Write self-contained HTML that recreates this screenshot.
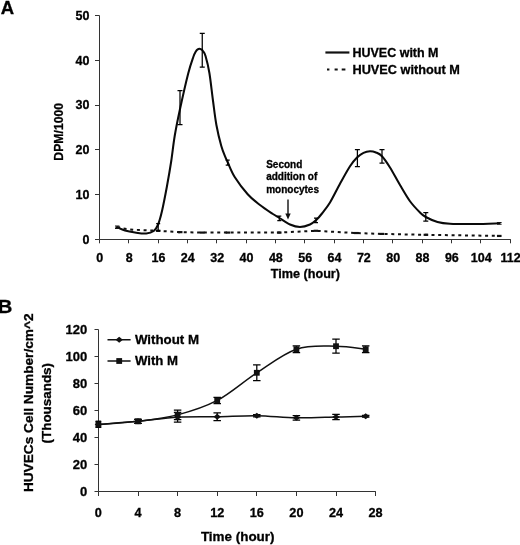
<!DOCTYPE html><html><head><meta charset="utf-8"><title>Figure</title><style>html,body{margin:0;padding:0;background:#fff}svg{display:block;will-change:transform;opacity:.999}text{stroke:#000;stroke-width:.3px;fill:#000}</style></head><body><svg width="520" height="545" viewBox="0 0 520 545">
<rect width="520" height="545" fill="#fff"/>
<g font-family="'Liberation Sans', sans-serif" font-weight="bold" fill="#111">
<text x="0.8" y="14.3" font-size="18.5">A</text>
<text x="-2.2" y="312.8" font-size="18.5" textLength="14.6" lengthAdjust="spacingAndGlyphs">B</text>
<g stroke="#333" stroke-width="1" fill="none">
<path d="M99.5 15.5V239.5H510.8"/>
<path d="M95 239.50H99.5"/>
<path d="M95 194.50H99.5"/>
<path d="M95 149.50H99.5"/>
<path d="M95 105.50H99.5"/>
<path d="M95 60.50H99.5"/>
<path d="M95 15.50H99.5"/>
<path d="M99.50 239.5V243.3"/>
<path d="M128.50 239.5V243.3"/>
<path d="M158.50 239.5V243.3"/>
<path d="M187.50 239.5V243.3"/>
<path d="M216.50 239.5V243.3"/>
<path d="M246.50 239.5V243.3"/>
<path d="M275.50 239.5V243.3"/>
<path d="M304.50 239.5V243.3"/>
<path d="M334.50 239.5V243.3"/>
<path d="M363.50 239.5V243.3"/>
<path d="M392.50 239.5V243.3"/>
<path d="M422.50 239.5V243.3"/>
<path d="M451.50 239.5V243.3"/>
<path d="M480.50 239.5V243.3"/>
<path d="M510.50 239.5V243.3"/>
</g>
<text x="89.5" y="243.70" font-size="12.5" text-anchor="end">0</text>
<text x="89.5" y="198.94" font-size="12.5" text-anchor="end">10</text>
<text x="89.5" y="154.18" font-size="12.5" text-anchor="end">20</text>
<text x="89.5" y="109.42" font-size="12.5" text-anchor="end">30</text>
<text x="89.5" y="64.66" font-size="12.5" text-anchor="end">40</text>
<text x="89.5" y="19.90" font-size="12.5" text-anchor="end">50</text>
<text x="99.80" y="262.1" font-size="12.5" text-anchor="middle">0</text>
<text x="129.14" y="262.1" font-size="12.5" text-anchor="middle">8</text>
<text x="158.48" y="262.1" font-size="12.5" text-anchor="middle">16</text>
<text x="187.82" y="262.1" font-size="12.5" text-anchor="middle">24</text>
<text x="217.16" y="262.1" font-size="12.5" text-anchor="middle">32</text>
<text x="246.50" y="262.1" font-size="12.5" text-anchor="middle">40</text>
<text x="275.84" y="262.1" font-size="12.5" text-anchor="middle">48</text>
<text x="305.18" y="262.1" font-size="12.5" text-anchor="middle">56</text>
<text x="334.52" y="262.1" font-size="12.5" text-anchor="middle">64</text>
<text x="363.86" y="262.1" font-size="12.5" text-anchor="middle">72</text>
<text x="393.20" y="262.1" font-size="12.5" text-anchor="middle">80</text>
<text x="422.54" y="262.1" font-size="12.5" text-anchor="middle">88</text>
<text x="451.88" y="262.1" font-size="12.5" text-anchor="middle">96</text>
<text x="481.22" y="262.1" font-size="12.5" text-anchor="middle">104</text>
<text x="510.56" y="262.1" font-size="12.5" text-anchor="middle">112</text>
<text x="305.4" y="278" font-size="12.5" text-anchor="middle" textLength="69.2" lengthAdjust="spacingAndGlyphs">Time (hour)</text>
<text transform="translate(63.4 131.8) rotate(-90)" font-size="12.5" text-anchor="middle" textLength="57.8" lengthAdjust="spacingAndGlyphs">DPM/1000</text>
<path d="M325.4 52.5H349.4" stroke="#111" stroke-width="2.2"/>
<text x="352.5" y="57" font-size="12.5" textLength="86" lengthAdjust="spacingAndGlyphs">HUVEC with M</text>
<path d="M327 69.6h2.4M334.6 69.6h3.1M341.7 69.6h3.7" stroke="#111" stroke-width="2"/>
<text x="352.5" y="74.4" font-size="12.5" textLength="107.3" lengthAdjust="spacingAndGlyphs">HUVEC without M</text>
<text font-size="10" x="266.2" y="167.5">Second</text>
<text font-size="10" x="266.2" y="180">addition of</text>
<text font-size="10" x="266.2" y="192.5">monocytes</text>
<path d="M288 199.5V215" stroke="#111" stroke-width="1.4"/>
<path d="M285.3 213.5H290.7L288 219.6Z" fill="#111"/>
<path d="M117.00 227.20 L123.00 228.50 L128.00 229.20 L135.00 229.80 L145.00 230.20 L158.18 230.80 L180.19 232.14 L202.19 232.59 L227.86 232.59 L279.21 232.59 L315.88 230.80 L356.23 233.03 L381.90 233.93 L425.91 234.82 L499.26 235.94" stroke="#111" stroke-width="2" fill="none" stroke-dasharray="3 3.7"/>
<path d="M115.54 227.66h4.6" stroke="#111" stroke-width="2.2"/>
<path d="M155.88 230.80h4.6" stroke="#111" stroke-width="2.2"/>
<path d="M177.88 232.14h4.6" stroke="#111" stroke-width="2.2"/>
<path d="M199.89 232.59h4.6" stroke="#111" stroke-width="2.2"/>
<path d="M225.56 232.59h4.6" stroke="#111" stroke-width="2.2"/>
<path d="M276.91 232.59h4.6" stroke="#111" stroke-width="2.2"/>
<path d="M313.58 230.80h4.6" stroke="#111" stroke-width="2.2"/>
<path d="M353.93 233.03h4.6" stroke="#111" stroke-width="2.2"/>
<path d="M379.60 233.93h4.6" stroke="#111" stroke-width="2.2"/>
<path d="M423.61 234.82h4.6" stroke="#111" stroke-width="2.2"/>
<path d="M496.96 235.94h4.6" stroke="#111" stroke-width="2.2"/>
<path d="M117.00 227.25 C118.33 227.79 122.00 229.62 125.00 230.50 C128.00 231.38 131.46 232.00 135.00 232.50 C138.54 233.00 143.12 233.75 146.25 233.50 C149.38 233.25 151.79 232.46 153.75 231.00 C155.71 229.54 156.62 228.08 158.00 224.75 C159.38 221.42 160.50 217.46 162.00 211.00 C163.50 204.54 165.46 194.33 167.00 186.00 C168.54 177.67 169.97 169.33 171.25 161.00 C172.53 152.67 173.27 144.50 174.70 136.00 C176.12 127.50 177.55 120.42 179.80 110.00 C182.05 99.58 185.95 82.33 188.20 73.50 C190.45 64.67 192.00 60.72 193.30 57.00 C194.60 53.28 195.27 52.47 196.00 51.20 C196.73 49.93 197.13 49.82 197.70 49.40 C198.27 48.98 198.83 48.72 199.40 48.70 C199.97 48.68 200.52 48.92 201.10 49.30 C201.68 49.68 202.15 49.85 202.90 51.00 C203.65 52.15 204.52 52.53 205.60 56.20 C206.68 59.87 208.18 65.70 209.40 73.00 C210.62 80.30 211.73 91.33 212.90 100.00 C214.07 108.67 215.00 117.33 216.40 125.00 C217.80 132.67 219.77 140.55 221.30 146.00 C222.83 151.45 224.52 154.95 225.60 157.70 C226.68 160.45 226.28 159.28 227.80 162.50 C229.32 165.72 231.38 171.72 234.70 177.00 C238.02 182.28 243.48 189.53 247.70 194.20 C251.92 198.87 255.87 201.74 260.00 205.00 C264.13 208.26 269.25 211.58 272.50 213.75 C275.75 215.92 276.58 216.21 279.50 218.00 C282.42 219.79 286.58 223.00 290.00 224.50 C293.42 226.00 296.67 227.00 300.00 227.00 C303.33 227.00 307.29 225.67 310.00 224.50 C312.71 223.33 314.25 221.83 316.25 220.00 C318.25 218.17 319.71 216.42 322.00 213.50 C324.29 210.58 327.00 207.46 330.00 202.50 C333.00 197.54 336.67 189.79 340.00 183.75 C343.33 177.71 347.17 170.62 350.00 166.25 C352.83 161.88 354.75 159.74 357.00 157.50 C359.25 155.26 361.33 153.84 363.50 152.80 C365.67 151.76 367.92 151.30 370.00 151.25 C372.08 151.20 374.00 151.67 376.00 152.50 C378.00 153.33 379.67 153.75 382.00 156.25 C384.33 158.75 387.00 162.71 390.00 167.50 C393.00 172.29 396.67 179.38 400.00 185.00 C403.33 190.62 406.67 196.67 410.00 201.25 C413.33 205.83 417.38 209.88 420.00 212.50 C422.62 215.12 422.83 215.42 425.75 217.00 C428.67 218.58 433.46 220.88 437.50 222.00 C441.54 223.12 443.75 223.42 450.00 223.75 C456.25 224.08 466.75 224.08 475.00 224.00 C483.25 223.92 495.42 223.38 499.50 223.25" stroke="#0a0a0a" stroke-width="2.05" fill="none" stroke-linejoin="round" stroke-linecap="round"/>
<g stroke="#000" stroke-width="1.25" fill="none">
<path d="M158.18 223.50V230.50M156.18 223.50h4.0M156.18 230.50h4.0"/>
<path d="M180.00 90.60V124.50M177.50 90.60h5.0M177.50 124.50h5.0"/>
<path d="M202.25 33.25V67.00M199.75 33.25h5.0M199.75 67.00h5.0"/>
<path d="M227.70 160.00V165.00M225.70 160.00h4.0M225.70 165.00h4.0"/>
<path d="M279.30 216.20V220.50M277.30 216.20h4.0M277.30 220.50h4.0"/>
<path d="M316.00 218.00V222.50M314.00 218.00h4.0M314.00 222.50h4.0"/>
<path d="M357.40 149.50V166.60M354.90 149.50h5.0M354.90 166.60h5.0"/>
<path d="M382.00 149.50V163.00M379.50 149.50h5.0M379.50 163.00h5.0"/>
<path d="M425.80 212.50V221.20M423.30 212.50h5.0M423.30 221.20h5.0"/>
</g>
<path d="M115 226h4.4M115 228.4h4.4M497 222.5h4.6M497 224.3h4.6" stroke="#111" stroke-width="1.1"/>
<g stroke="#333" stroke-width="1" fill="none">
<path d="M98.5 329.5V491.5H375.8"/>
<path d="M94.5 491.50H98.5"/>
<path d="M94.5 464.50H98.5"/>
<path d="M94.5 437.50H98.5"/>
<path d="M94.5 410.50H98.5"/>
<path d="M94.5 383.50H98.5"/>
<path d="M94.5 356.50H98.5"/>
<path d="M94.5 329.50H98.5"/>
<path d="M98.50 491.5V496"/>
<path d="M138.50 491.5V496"/>
<path d="M177.50 491.5V496"/>
<path d="M217.50 491.5V496"/>
<path d="M256.50 491.5V496"/>
<path d="M296.50 491.5V496"/>
<path d="M336.50 491.5V496"/>
<path d="M375.50 491.5V496"/>
</g>
<text x="87.2" y="496.00" font-size="13" text-anchor="end">0</text>
<text x="87.2" y="469.02" font-size="13" text-anchor="end">20</text>
<text x="87.2" y="442.04" font-size="13" text-anchor="end">40</text>
<text x="87.2" y="415.06" font-size="13" text-anchor="end">60</text>
<text x="87.2" y="388.08" font-size="13" text-anchor="end">80</text>
<text x="87.2" y="361.10" font-size="13" text-anchor="end">100</text>
<text x="87.2" y="334.12" font-size="13" text-anchor="end">120</text>
<text x="98.40" y="517.2" font-size="12.7" text-anchor="middle">0</text>
<text x="138.00" y="517.2" font-size="12.7" text-anchor="middle">4</text>
<text x="177.60" y="517.2" font-size="12.7" text-anchor="middle">8</text>
<text x="217.20" y="517.2" font-size="12.7" text-anchor="middle">12</text>
<text x="256.80" y="517.2" font-size="12.7" text-anchor="middle">16</text>
<text x="296.40" y="517.2" font-size="12.7" text-anchor="middle">20</text>
<text x="336.00" y="517.2" font-size="12.7" text-anchor="middle">24</text>
<text x="375.60" y="517.2" font-size="12.7" text-anchor="middle">28</text>
<text x="237.7" y="541.2" font-size="13" text-anchor="middle" textLength="73.6" lengthAdjust="spacingAndGlyphs">Time (hour)</text>
<text transform="translate(32.6 402.8) rotate(-90)" font-size="13" text-anchor="middle" textLength="178.6" lengthAdjust="spacingAndGlyphs">HUVECs Cell Number/cm^2</text>
<text transform="translate(50.6 403.2) rotate(-90)" font-size="13" text-anchor="middle" textLength="80.5" lengthAdjust="spacingAndGlyphs">(Thousands)</text>
<path d="M107.5 339.8H130.6M107.5 361H130.6" stroke="#111" stroke-width="1.4"/>
<path d="M119.2 336.8l3.7 3l-3.7 3l-3.7 -3z" fill="#111"/>
<rect x="116.3" y="358.1" width="5.8" height="5.8" fill="#111"/>
<text x="134.9" y="344" font-size="13" textLength="64.1" lengthAdjust="spacingAndGlyphs">Without M</text>
<text x="134.9" y="365" font-size="13" textLength="43.1" lengthAdjust="spacingAndGlyphs">With M</text>
<path d="M98.40 424.45 C105.00 423.94 124.80 422.95 138.00 421.35 C151.20 419.76 164.40 418.36 177.60 414.88 C190.80 411.39 204.00 407.46 217.20 400.44 C230.40 393.43 243.60 381.33 256.80 372.79 C270.00 364.24 283.20 353.61 296.40 349.18 C309.60 344.75 324.45 346.21 336.00 346.21 C347.55 346.21 360.75 348.69 365.70 349.18" stroke="#111" stroke-width="1.5" fill="none"/>
<path d="M98.40 424.45 C105.00 423.94 124.80 422.54 138.00 421.35 C151.20 420.16 164.40 418.07 177.60 417.31 C190.80 416.54 204.00 417.04 217.20 416.77 C230.40 416.50 243.60 415.51 256.80 415.69 C270.00 415.87 283.20 417.62 296.40 417.84 C309.60 418.07 324.45 417.31 336.00 417.04 C347.55 416.77 360.75 416.36 365.70 416.23" stroke="#111" stroke-width="1.5" fill="none"/>
<g stroke="#000" stroke-width="1.25" fill="none">
<path d="M98.40 421.49V427.42M95.65 421.49h5.5M95.65 427.42h5.5"/>
<path d="M138.00 419.33V423.38M134.25 419.33h7.5M134.25 423.38h7.5"/>
<path d="M177.60 410.02V419.73M173.85 410.02h7.5M173.85 419.73h7.5"/>
<path d="M217.20 397.34V403.55M213.45 397.34h7.5M213.45 403.55h7.5"/>
<path d="M256.80 364.96V380.61M253.05 364.96h7.5M253.05 380.61h7.5"/>
<path d="M296.40 345.81V352.55M292.65 345.81h7.5M292.65 352.55h7.5"/>
<path d="M336.00 339.20V353.23M332.25 339.20h7.5M332.25 353.23h7.5"/>
<path d="M365.70 345.81V352.55M361.95 345.81h7.5M361.95 352.55h7.5"/>
<path d="M98.40 421.49V427.42M95.65 421.49h5.5M95.65 427.42h5.5"/>
<path d="M138.00 419.33V423.38M134.25 419.33h7.5M134.25 423.38h7.5"/>
<path d="M177.60 412.45V422.16M173.85 412.45h7.5M173.85 422.16h7.5"/>
<path d="M217.20 412.85V420.68M213.45 412.85h7.5M213.45 420.68h7.5"/>
<path d="M256.80 414.61V416.77M253.05 414.61h7.5M253.05 416.77h7.5"/>
<path d="M296.40 415.55V420.14M292.65 415.55h7.5M292.65 420.14h7.5"/>
<path d="M336.00 414.34V419.73M332.25 414.34h7.5M332.25 419.73h7.5"/>
<path d="M365.70 415.42V417.04M361.95 415.42h7.5M361.95 417.04h7.5"/>
</g>
<rect x="95.50" y="421.55" width="5.8" height="5.8" fill="#111"/>
<rect x="135.10" y="418.45" width="5.8" height="5.8" fill="#111"/>
<rect x="174.70" y="411.98" width="5.8" height="5.8" fill="#111"/>
<rect x="214.30" y="397.54" width="5.8" height="5.8" fill="#111"/>
<rect x="253.90" y="369.89" width="5.8" height="5.8" fill="#111"/>
<rect x="293.50" y="346.28" width="5.8" height="5.8" fill="#111"/>
<rect x="333.10" y="343.31" width="5.8" height="5.8" fill="#111"/>
<rect x="362.80" y="346.28" width="5.8" height="5.8" fill="#111"/>
<path d="M98.40 421.45l3.7 3l-3.7 3l-3.7 -3z" fill="#111"/>
<path d="M138.00 418.35l3.7 3l-3.7 3l-3.7 -3z" fill="#111"/>
<path d="M177.60 414.31l3.7 3l-3.7 3l-3.7 -3z" fill="#111"/>
<path d="M217.20 413.77l3.7 3l-3.7 3l-3.7 -3z" fill="#111"/>
<path d="M256.80 412.69l3.7 3l-3.7 3l-3.7 -3z" fill="#111"/>
<path d="M296.40 414.84l3.7 3l-3.7 3l-3.7 -3z" fill="#111"/>
<path d="M336.00 414.04l3.7 3l-3.7 3l-3.7 -3z" fill="#111"/>
<path d="M365.70 413.23l3.7 3l-3.7 3l-3.7 -3z" fill="#111"/>
</g></svg></body></html>
